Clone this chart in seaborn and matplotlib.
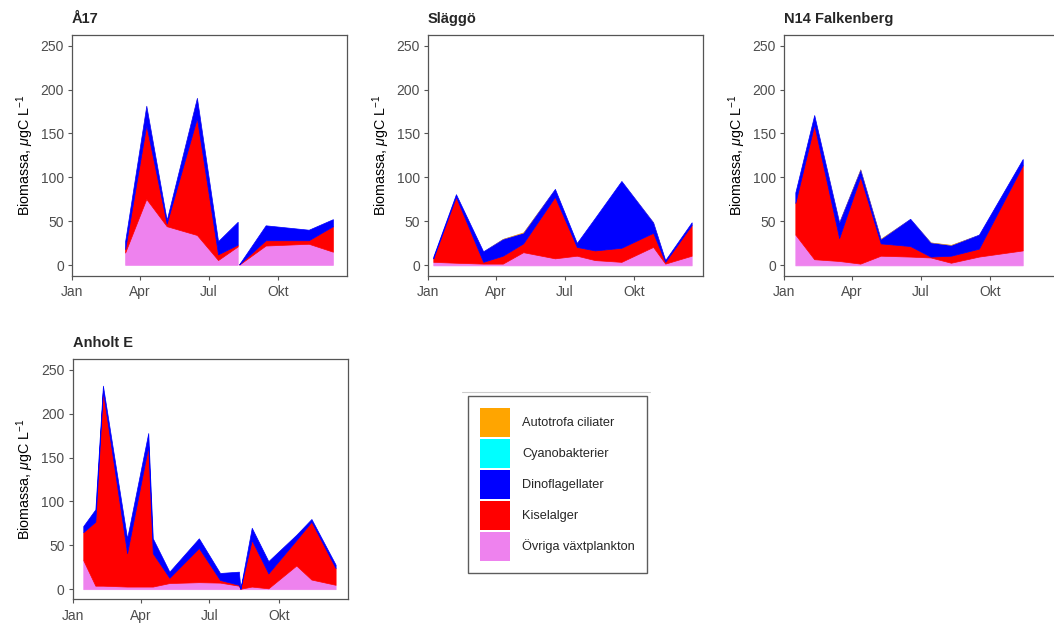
import numpy as np
import pandas as pd
import matplotlib
matplotlib.use("Agg")
import matplotlib.pyplot as plt
from matplotlib.patches import Patch
from matplotlib.lines import Line2D
import seaborn as sns

# ---------------- data ----------------
groups = ["Autotrofa ciliater", "Cyanobakterier", "Dinoflagellater",
          "Kiselalger", "Övriga växtplankton"]
group_colors = ["#FFA500", "#00FFFF", "#0000FF", "#FF0000", "#EE82EE"]

stations = ["Å17", "Släggö", "N14 Falkenberg", "Anholt E"]

# Å17 (NaN = missing sample -> gap)
a17_dates = ["2023-03-13", "2023-04-10", "2023-05-07", "2023-06-16", "2023-07-14",
             "2023-08-09", "2023-08-10", "2023-08-11", "2023-09-15", "2023-11-11",
             "2023-12-13"]
a17_ovriga = [14, 75, 44, 34, 5.5, 21, np.nan, 0.3, 22, 24, 15]
a17_kisel = [4, 84, 3, 133, 6.5, 2, np.nan, 0.3, 6, 4, 29]
a17_dino = [9, 22, 4, 23, 15, 26, np.nan, 0.2, 17, 12, 8]
a17_cyano = [0, 0, 0, 0, 0, 0, np.nan, 0, 0, 0, 0]
a17_cil = [0, 0.3, 0, 0.3, 0, 0, np.nan, 0, 0, 0, 0]

# Släggö
sl_dates = ["2023-01-08", "2023-02-07", "2023-03-15", "2023-04-10", "2023-05-07",
            "2023-06-18", "2023-07-17", "2023-08-10", "2023-09-14", "2023-10-26",
            "2023-11-11", "2023-12-16"]
sl_ovriga = [4, 3, 2, 2, 15, 8, 11, 6, 4, 21, 2, 11]
sl_kisel = [4, 75, 2, 9, 10, 70, 10, 11, 16, 16, 2, 35]
sl_dino = [2, 3, 12, 19, 12, 9, 4.5, 37, 76, 12, 2, 3]
sl_cyano = [0, 0, 0, 0, 0, 0, 0, 0, 0, 0, 0, 0]
sl_cil = [0, 0, 0, 0.5, 1, 0, 0, 0, 0, 0.3, 0, 0]

# N14 Falkenberg
n14_dates = ["2023-01-16", "2023-02-10", "2023-03-15", "2023-04-12", "2023-05-09",
             "2023-06-17", "2023-07-14", "2023-08-10", "2023-09-16", "2023-11-13"]
n14_ovriga = [35, 7, 5, 2, 11, 10, 9, 3, 10, 17]
n14_kisel = [36, 153, 26, 99, 14, 12, 1, 8, 9, 97]
n14_dino = [12, 11, 18, 8, 5, 31, 16, 12, 16, 7]
n14_cyano = [0, 0, 0, 0, 0, 0, 0, 0, 0, 0]
n14_cil = [0, 0, 0.5, 1, 0.8, 0, 0.5, 0.8, 0, 0]

# Anholt E
an_dates = ["2023-01-15", "2023-01-31", "2023-02-10", "2023-03-14", "2023-04-11",
            "2023-04-17", "2023-05-09", "2023-06-17", "2023-07-15", "2023-08-09",
            "2023-08-11", "2023-08-26", "2023-09-17", "2023-10-24", "2023-11-13",
            "2023-12-15"]
an_ovriga = [33, 4, 4, 3, 3, 3, 7, 8, 7.5, 4, 0.5, 3, 1, 27, 11, 5]
an_kisel = [32, 73, 222, 38, 160, 38, 6, 39, 3, 1, 0, 53, 17, 29, 66, 19]
an_dino = [7, 14, 6, 17, 15, 17, 7, 11, 8, 15, 0, 14, 14, 6, 3, 4]
an_cyano = [0] * 16
an_cil = [0] * 16

station_data = {
    "Å17": (a17_dates, a17_ovriga, a17_kisel, a17_dino, a17_cyano, a17_cil),
    "Släggö": (sl_dates, sl_ovriga, sl_kisel, sl_dino, sl_cyano, sl_cil),
    "N14 Falkenberg": (n14_dates, n14_ovriga, n14_kisel, n14_dino, n14_cyano, n14_cil),
    "Anholt E": (an_dates, an_ovriga, an_kisel, an_dino, an_cyano, an_cil),
}

month_ticks = ["2023-01-01", "2023-04-01", "2023-07-01", "2023-10-01"]
month_labels = ["Jan", "Apr", "Jul", "Okt"]
y_ticks = [0, 50, 100, 150, 200, 250]

# ---------------- style ----------------
sns.set_theme(style="ticks")
plt.rcParams["font.family"] = ["Liberation Sans", "DejaVu Sans"]
plt.rcParams["mathtext.fontset"] = "custom"
plt.rcParams["mathtext.rm"] = "Liberation Sans"
plt.rcParams["mathtext.it"] = "Liberation Sans:italic"

palette = dict(zip(groups, sns.color_palette(group_colors)))

W, H = 1054, 626
fig = plt.figure(figsize=(W / 100, H / 100), dpi=100)


def px_axes(left, top, width, height):
    return fig.add_axes([left / W, 1 - (top + height) / H, width / W, height / H])


panel_px = {
    "Å17": (72, 35, 275, 240.5),
    "Släggö": (428, 35, 275, 240.5),
    "N14 Falkenberg": (784, 35, 275, 240.5),
    "Anholt E": (72.7, 359.3, 275, 240),
}

edge_col = "#555555"
stack_order = ["Övriga växtplankton", "Kiselalger", "Dinoflagellater",
               "Cyanobakterier", "Autotrofa ciliater"]

for st in stations:
    ax = px_axes(*panel_px[st])
    dates, ov, ki, di, cy, ci = station_data[st]
    df = pd.DataFrame({
        "date": pd.to_datetime(dates),
        "Övriga växtplankton": ov,
        "Kiselalger": ki,
        "Dinoflagellater": di,
        "Cyanobakterier": cy,
        "Autotrofa ciliater": ci,
    })
    base = np.zeros(len(df))
    for g in stack_order:
        top = base + df[g].to_numpy(dtype=float)
        lw = 0.5 if g in ("Övriga växtplankton", "Kiselalger", "Dinoflagellater") else 0
        ax.fill_between(df["date"], base, top, facecolor=palette[g],
                        edgecolor=palette[g], linewidth=lw)
        base = top

    ax.set_xlim(pd.Timestamp("2023-01-01"), pd.Timestamp("2023-12-31"))
    ax.set_ylim(-11.5, 262)
    ax.set_xticks(pd.to_datetime(month_ticks))
    ax.set_xticklabels(month_labels)
    ax.set_yticks(y_ticks)
    ax.tick_params(axis="both", labelsize=10, labelcolor="#4D4D4D",
                   color=edge_col, length=2.9, width=0.8, pad=3)
    ax.tick_params(axis="x", pad=4)
    for sp in ax.spines.values():
        sp.set_visible(True)
        sp.set_color(edge_col)
        sp.set_linewidth(0.9)
    ax.set_facecolor("white")
    ax.grid(False)
    ax.set_ylabel(r"Biomassa, $\mu$gC L$^{-1}$", fontsize=10.3, color="black")
    ax.yaxis.label.set_va("center")
    ax.yaxis.set_label_coords(-0.171, 0.5)
    ax.set_xlabel("")
    ax.set_title(st, loc="left", fontsize=10.5, fontweight="bold", pad=9)

# ---------------- legend ----------------
handles = [Patch(facecolor=palette[g], edgecolor="none") for g in groups]
leg = fig.legend(handles, groups, loc="upper left",
                 bbox_to_anchor=(468 / W, 1 - 396 / H),
                 frameon=True, fancybox=False, fontsize=9.2,
                 handlelength=2.35, handleheight=3.1, labelspacing=0.16,
                 borderpad=0.94, handletextpad=0.94, borderaxespad=0)
leg.get_frame().set_edgecolor("#333333")
leg.get_frame().set_linewidth(1.0)
fig.add_artist(Line2D([462 / W, 650 / W], [1 - 392 / H, 1 - 392 / H],
                      color="#CCCCCC", linewidth=0.8))

fig.savefig("out.png", dpi=100)
